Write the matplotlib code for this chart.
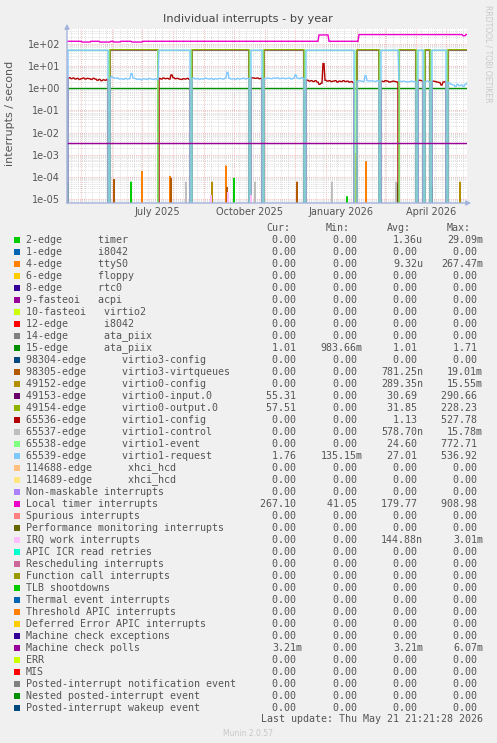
import numpy as np
import matplotlib
matplotlib.use('Agg')
import matplotlib.pyplot as plt
import matplotlib.dates as mdates
from matplotlib.patches import Rectangle, FancyArrowPatch
from matplotlib.ticker import LogLocator, FuncFormatter, NullFormatter
from datetime import datetime

# ---------------- data ----------------
start = datetime(2025, 4, 16, 21, 21, 28)
n_days = 400

labels = ["2-edge      timer", "1-edge      i8042", "4-edge      ttyS0", "6-edge      floppy",
          "8-edge      rtc0", "9-fasteoi   acpi", "10-fasteoi   virtio2", "12-edge      i8042",
          "14-edge      ata_piix", "15-edge      ata_piix", "98304-edge      virtio3-config",
          "98305-edge      virtio3-virtqueues", "49152-edge      virtio0-config",
          "49153-edge      virtio0-input.0", "49154-edge      virtio0-output.0",
          "65536-edge      virtio1-config", "65537-edge      virtio1-control",
          "65538-edge      virtio1-event", "65539-edge      virtio1-request",
          "114688-edge      xhci_hcd", "114689-edge      xhci_hcd", "Non-maskable interrupts",
          "Local timer interrupts", "Spurious interrupts", "Performance monitoring interrupts",
          "IRQ work interrupts", "APIC ICR read retries", "Rescheduling interrupts",
          "Function call interrupts", "TLB shootdowns", "Thermal event interrupts",
          "Threshold APIC interrupts", "Deferred Error APIC interrupts", "Machine check exceptions",
          "Machine check polls", "ERR", "MIS", "Posted-interrupt notification event",
          "Nested posted-interrupt event", "Posted-interrupt wakeup event"]

colors = ["#00CC00", "#0066B3", "#FF8000", "#FFCC00", "#330099", "#990099", "#CCFF00", "#FF0000",
          "#808080", "#008F00", "#00487D", "#B35A00", "#B38F00", "#6B006B", "#8FB300", "#B30000",
          "#BEBEBE", "#80FF80", "#80C9FF", "#FFC080", "#FFE680", "#AA80FF", "#EE00CC", "#FF8080",
          "#666600", "#FFBFFF", "#00FFCC", "#CC6699", "#999900", "#00CC00", "#0066B3", "#FF8000",
          "#FFCC00", "#330099", "#990099", "#CCFF00", "#FF0000", "#808080", "#008F00", "#00487D"]

cur_vals = ["0.00", "0.00", "0.00", "0.00", "0.00", "0.00", "0.00", "0.00", "0.00", "1.01",
            "0.00", "0.00", "0.00", "55.31", "57.51", "0.00", "0.00", "0.00", "1.76", "0.00",
            "0.00", "0.00", "267.10", "0.00", "0.00", "0.00", "0.00", "0.00", "0.00", "0.00",
            "0.00", "0.00", "0.00", "0.00", "3.21m", "0.00", "0.00", "0.00", "0.00", "0.00"]
min_vals = ["0.00", "0.00", "0.00", "0.00", "0.00", "0.00", "0.00", "0.00", "0.00", "983.66m",
            "0.00", "0.00", "0.00", "0.00", "0.00", "0.00", "0.00", "0.00", "135.15m", "0.00",
            "0.00", "0.00", "41.05", "0.00", "0.00", "0.00", "0.00", "0.00", "0.00", "0.00",
            "0.00", "0.00", "0.00", "0.00", "0.00", "0.00", "0.00", "0.00", "0.00", "0.00"]
avg_vals = ["1.36u", "0.00", "9.32u", "0.00", "0.00", "0.00", "0.00", "0.00", "0.00", "1.01",
            "0.00", "781.25n", "289.35n", "30.69", "31.85", "1.13", "578.70n", "24.60", "27.01", "0.00",
            "0.00", "0.00", "179.77", "0.00", "0.00", "144.88n", "0.00", "0.00", "0.00", "0.00",
            "0.00", "0.00", "0.00", "0.00", "3.21m", "0.00", "0.00", "0.00", "0.00", "0.00"]
max_vals = ["29.09m", "0.00", "267.47m", "0.00", "0.00", "0.00", "0.00", "0.00", "0.00", "1.71",
            "0.00", "19.01m", "15.55m", "290.66", "228.23", "527.78", "15.78m", "772.71", "536.92", "0.00",
            "0.00", "0.00", "908.98", "0.00", "0.00", "3.01m", "0.00", "0.00", "0.00", "0.00",
            "0.00", "0.00", "0.00", "0.00", "6.07m", "0.00", "0.00", "0.00", "0.00", "0.00"]

# periods (day offsets) when virtio1 disk is busy (A) and when virtio0 is busy (B)
a_periods = [(1, 41), (92, 123), (184, 195), (239, 287), (314, 331), (351, 356), (365, 379)]
b_periods = [(43, 91), (125, 182), (197, 237), (290, 312), (332, 349), (358, 363), (381, 400)]
# virtio1-event is active a day longer on each side of the A periods
event_periods = [(0, 42), (91, 124), (183, 196), (238, 288), (313, 332), (350, 357), (364, 380)]
virtio1_event_high = 51.0
virtio1_request_high = 52.0
virtio0_input_high = 53.0
virtio0_output_high = 55.0

# low-rate values (every 2 days) of the "idle" virtio queue
low_rate = [2.6, 3.0, 2.7, 2.9, 2.6, 2.8, 2.5, 2.7, 2.9, 2.6, 2.8, 2.7, 2.5, 2.8, 2.6, 2.3, 2.5, 2.2, 2.4, 2.3, 2.5,
            2.5, 3.3, 3.0, 2.8, 2.9, 2.6, 2.7, 2.5, 2.8, 2.6, 2.7, 4.6, 2.9, 2.7, 2.5, 2.6, 2.4, 2.7, 2.6, 2.5, 2.8, 2.6, 2.5, 2.7, 2.4,
            2.8, 2.6, 2.9, 2.7, 2.8, 2.6, 4.0, 3.0, 2.7, 2.8, 2.6, 2.5, 2.7, 2.6, 2.8, 2.5,
            2.7, 2.9, 2.6, 2.8, 2.5, 2.7, 2.6, 2.9, 2.7, 2.6, 2.8, 2.5, 2.7, 2.6, 2.8, 2.7, 2.6, 2.9, 5.2, 2.8,
            2.6, 2.7, 2.5, 2.8, 2.6, 2.7, 2.9, 2.6, 2.8, 2.7,
            3.0, 2.9, 2.8, 2.9, 2.7, 2.8, 2.8,
            2.7, 2.9, 2.8, 2.7, 2.9, 2.8, 3.0, 2.7, 2.8, 2.9, 2.7, 2.8, 2.9, 2.6, 2.8, 4.0, 2.9, 2.7, 3.0, 2.8,
            2.4, 2.3, 2.1, 2.2, 2.0, 2.2, 1.9, 1.5, 1.7, 13.0, 2.3, 2.1, 2.2, 2.0, 2.1, 2.2, 1.9, 2.1, 2.0, 2.2,
            2.0, 2.1, 1.9, 2.0, 1.8, 1.9,
            2.1, 2.2, 2.1, 2.0, 3.7, 2.2, 2.1, 2.2, 2.1, 2.0, 2.2, 2.1,
            2.1, 2.0, 2.2, 2.1, 1.9, 2.0, 2.1, 2.0, 1.9,
            2.1, 2.0, 2.1, 2.0, 1.9, 2.0, 2.1, 2.0, 2.0, 2.1,
            2.3, 2.2, 2.1,
            2.0, 2.1, 2.0, 2.0,
            2.1, 2.0, 1.9, 1.8, 1.4, 1.9, 2.0, 1.9,
            1.7, 1.5, 1.4, 1.2, 1.5, 1.3, 1.4, 1.2, 1.5, 1.76]

# local timer interrupts: change points (day, value)
timer_change_days = [0, 15, 24, 33, 44, 47, 54, 65, 76, 252, 262, 292, 396, 399]
timer_change_vals = [132, 122, 132, 122, 132, 122, 132, 122, 132, 255, 132, 265, 235, 267]

ata_piix_rate = 1.01
mc_polls_rate = 3.21e-3

# occasional small spikes (day, rate)
spikes = {
    0: ([1, 64, 167, 280, 313, 331, 365], [5.4e-5, 6e-5, 9e-5, 1.3e-5, 9e-5, 5e-5, 3.5e-5]),
    2: ([75, 103, 159, 289, 299], [1.8e-4, 1.1e-4, 3.2e-4, 1.15e-3, 5e-4]),
    11: ([47, 104, 160, 230, 380], [8e-5, 9e-5, 3.5e-5, 6e-5, 3e-5]),
    12: ([145, 393], [6e-5, 6e-5]),
    16: ([119, 188, 265, 329], [6e-5, 6e-5, 6e-5, 6e-5]),
    25: ([144, 161, 184], [1.5e-5, 2e-5, 1.5e-5]),
}

month_label_dates = [datetime(2025, 7, 16), datetime(2025, 10, 16), datetime(2026, 1, 16), datetime(2026, 4, 16)]
month_labels = ["July 2025", "October 2025", "January 2026", "April 2026"]

# ---------------- build series ----------------
days = np.arange(n_days + 1)
t = mdates.date2num(start) + days


def period_mask(periods):
    m = np.zeros(len(days), bool)
    for a, b in periods:
        m[a:b + 1] = True
    return m


mA = period_mask(a_periods)
mB = period_mask(b_periods)
mE = period_mask(event_periods)
low_daily = np.array(low_rate)[days // 2]

series = [np.zeros(len(days)) for _ in labels]
for idx, (sd, sv) in spikes.items():
    series[idx][np.array(sd)] = sv
series[9][:] = ata_piix_rate
series[13] = np.where(mB, virtio0_input_high, 0.0)
series[14] = np.where(mB, virtio0_output_high, 0.0)
series[15] = np.where(mA, low_daily, 0.0)
series[17] = np.where(mE, virtio1_event_high, 0.0)
series[18] = np.where(mA, virtio1_request_high, np.where(mB, low_daily, 0.0))
ci = np.searchsorted(np.array(timer_change_days), days, side='right') - 1
series[22] = np.array(timer_change_vals, dtype=float)[ci]
series[34][:] = mc_polls_rate

# ---------------- figure ----------------
W, H = 497, 743
fig = plt.figure(figsize=(W / 100, H / 100), dpi=100, facecolor='#F0F0F0')


def fx(px):
    return px / W


def fy(py):
    return 1 - py / H


ax = fig.add_axes([fx(67), fy(203), fx(400), 175 / H])
ax.set_facecolor('white')
ax.set_yscale('log')
ax.set_ylim(6.6e-6, 525)
ax.set_xlim(t[0], t[-1])

for i, s in enumerate(series):
    if np.any(s > 0):
        ax.plot(t, s, color=colors[i], lw=1.0, zorder=3 + i * 0.01, solid_joinstyle='miter')

# grid
ax.xaxis.set_major_locator(mdates.MonthLocator(bymonthday=1))
ax.xaxis.set_minor_locator(mdates.WeekdayLocator(byweekday=mdates.MO))
ax.xaxis.set_major_formatter(NullFormatter())
ax.xaxis.set_minor_formatter(NullFormatter())
ax.yaxis.set_major_locator(LogLocator(base=10, numticks=20))
ax.yaxis.set_minor_locator(LogLocator(base=10, subs=np.arange(2, 10), numticks=20))
ax.yaxis.set_major_formatter(FuncFormatter(lambda v, p: f"{v:.0e}"))
ax.yaxis.set_minor_formatter(NullFormatter())
ax.grid(which='minor', color='#D4D4D4', lw=0.6, ls=(0, (1, 1.5)), zorder=1)
ax.grid(which='major', color='#F2A0A0', lw=0.6, ls=(0, (1, 1.5)), zorder=2)
ax.tick_params(axis='both', which='both', length=0)
ax.tick_params(axis='y', labelsize=7, labelcolor='#555555', pad=5)
for sp in ax.spines.values():
    sp.set_visible(False)

sec = ax.secondary_xaxis('bottom')
sec.set_xticks(mdates.date2num(month_label_dates), labels=month_labels)
sec.tick_params(length=0, pad=3, labelsize=7, labelcolor='#555555')
for sp in sec.spines.values():
    sp.set_visible(False)

# axis arrows
arrow_col = '#A6B4DC'
fig.add_artist(FancyArrowPatch((fx(64), fy(203)), (fx(474), fy(203)),
               transform=fig.transFigure, arrowstyle='-|>', mutation_scale=7, color=arrow_col, lw=1))
fig.add_artist(FancyArrowPatch((fx(67), fy(206)), (fx(67), fy(21)),
               transform=fig.transFigure, arrowstyle='-|>', mutation_scale=7, color=arrow_col, lw=1))

# titles
fig.text(fx(248), fy(19), "Individual interrupts - by year", ha='center', va='center',
         fontsize=8.2, color='#444444')
fig.text(fx(10), fy(113), "interrupts / second", rotation=90, ha='center', va='center',
         fontsize=8, color='#555555')
fig.text(fx(488), fy(5), "RRDTOOL / TOBI OETIKER", rotation=270, ha='center', va='top',
         fontsize=5.5, color='#C8C8C8')

# legend
mono = 'DejaVu Sans Mono'
fs = 7.2
cw = 6.02
txt_col = '#555555'
fig.text(fx(266), fy(228), "Cur:", family=mono, fontsize=fs, color=txt_col, va='center')
fig.text(fx(326), fy(228), "Min:", family=mono, fontsize=fs, color=txt_col, va='center')
fig.text(fx(387), fy(228), "Avg:", family=mono, fontsize=fs, color=txt_col, va='center')
fig.text(fx(447), fy(228), "Max:", family=mono, fontsize=fs, color=txt_col, va='center')
col_ends = [302, 363, 423, 483]
for i, lab in enumerate(labels):
    y = 240 + 12 * i
    fig.add_artist(Rectangle((fx(14), fy(y + 3)), 6 / W, 6 / H, transform=fig.transFigure,
                             facecolor=colors[i], edgecolor='none'))
    fig.text(fx(26), fy(y), lab, family=mono, fontsize=fs, color=txt_col, va='center')
    for vals, xe in zip([cur_vals, min_vals, avg_vals, max_vals], col_ends):
        v = vals[i]
        if v[-1].isdigit():
            v = v + " "
        fig.text(fx(xe - len(v) * cw), fy(y), v, family=mono, fontsize=fs, color=txt_col, va='center')

fig.text(fx(483), fy(719), "Last update: Thu May 21 21:21:28 2026", family=mono, fontsize=fs,
         color=txt_col, va='center', ha='right')
fig.text(fx(248), fy(733), "Munin 2.0.57", ha='center', va='center', fontsize=5.5, color='#C8C8C8')

fig.savefig('out.png', dpi=100, facecolor=fig.get_facecolor())
